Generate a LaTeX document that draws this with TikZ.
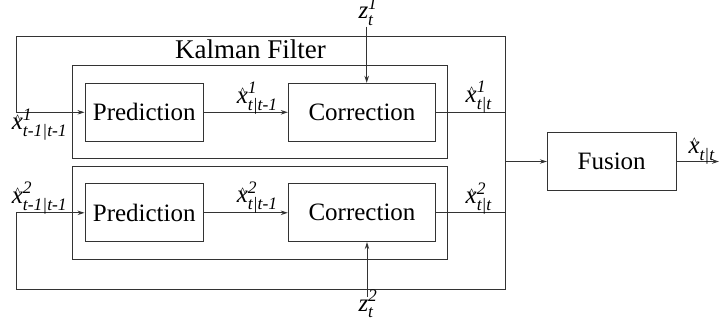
\documentclass[tikz,border=0pt]{standalone}
\usepackage{amsmath}
\usepackage{fontspec}
\setmainfont{Liberation Serif}
\usetikzlibrary{arrows.meta}

% italic x with a small circumflex set close above it
\newcommand{\xhat}{\textit{x}\llap{\raisebox{6.3pt}{\fontsize{13}{13}\selectfont\textasciicircum}\kern2.2pt}}
% estimate label: \est{superscript}{subscript}
\newcommand{\est}[2]{$\mbox{\xhat}^{\textit{#1}}_{\textit{#2}}$}
\newcommand{\meas}[2]{$\textit{z}^{\textit{#1}}_{\textit{#2}}$}

\tikzset{
  wire/.style={draw=black!80, line width=1pt},
  arr/.style={wire, -{Stealth[length=7pt,width=4.5pt]}},
  block/.style={draw=black!80, line width=1pt, inner sep=0pt,
                font=\fontsize{25}{30}\selectfont},
  frame/.style={draw=black!80, line width=1pt, inner sep=0pt},
  lbl/.style={inner sep=0pt, anchor=base west, font=\fontsize{25}{30}\selectfont},
}

\begin{document}
\begin{tikzpicture}[x=1pt, y=-1pt]
  \useasboundingbox (0,0) rectangle (720,332);

  % Kalman filter frames
  \node[frame, minimum width=375pt, minimum height=93pt] (K1) at (260.2,111.8) {};
  \node[frame, minimum width=375pt, minimum height=92.7pt] (K2) at (260.2,212.7) {};
  \node[inner sep=0pt, anchor=base, font=\fontsize{27}{32}\selectfont] (KF) at (250.5,58.5) {Kalman Filter};

  % processing blocks
  \node[block, minimum width=118.5pt, minimum height=58pt] (P1) at (144.25,112.3) {Prediction};
  \node[block, minimum width=147.4pt, minimum height=58pt] (C1) at (362,112.3) {Correction};
  \node[block, minimum width=118.5pt, minimum height=57.7pt] (P2) at (144.25,212.8) {Prediction};
  \node[block, minimum width=147.4pt, minimum height=57.7pt] (C2) at (362,212.8) {Correction};
  \node[block, minimum width=128.7pt, minimum height=58.4pt] (F) at (611.7,161.5) {Fusion};

  % loop corners and free ends
  \coordinate (tr) at (505.7,36.7);
  \coordinate (tl) at (16.7,36.7);
  \coordinate (br) at (505.7,289.3);
  \coordinate (bl) at (16.7,289.3);
  \coordinate (z1) at (366.7,26.7);
  \coordinate (z2) at (367,296.7);
  \coordinate (out) at (719,161.5);

  % connectors
  \draw[arr] (P1.east) -- (C1.west);
  \draw[arr] (P2.east) -- (C2.west);
  \draw[arr] (C1.east) -- (C1.east -| tr) -- (tr) -- (tl) -- (tl |- P1.west) -- (P1.west);
  \draw[arr] (C2.east) -- (C2.east -| br) -- (br) -- (bl) -- (bl |- P2.west) -- (P2.west);
  \draw[wire] (C1.east -| tr) -- (C2.east -| br);
  \draw[arr] (F.west -| tr) -- (F.west);
  \draw[arr] (F.east) -- (out);
  \draw[arr] (z1) -- (z1 |- C1.north);
  \draw[arr] (z2) -- (z2 |- C2.south);

  % signal labels
  \node[lbl] (l11) at (11.7,129.5) {\est{1}{t-1|t-1}};
  \node[lbl] (l21) at (11.7,203) {\est{2}{t-1|t-1}};
  \node[lbl] (l12) at (236.7,103) {\est{1}{t|t-1}};
  \node[lbl] (l22) at (236.7,202.5) {\est{2}{t|t-1}};
  \node[lbl] (l13) at (465.5,102) {\est{1}{t|t}};
  \node[lbl] (l23) at (465.5,203.5) {\est{2}{t|t}};
  \node[lbl] (lo) at (688.3,153) {\est{}{t|t}};
  \node[lbl] (lz1) at (358.3,19) {\meas{1}{t}};
  \node[lbl] (lz2) at (358.3,311) {\meas{2}{t}};
\end{tikzpicture}
\end{document}
